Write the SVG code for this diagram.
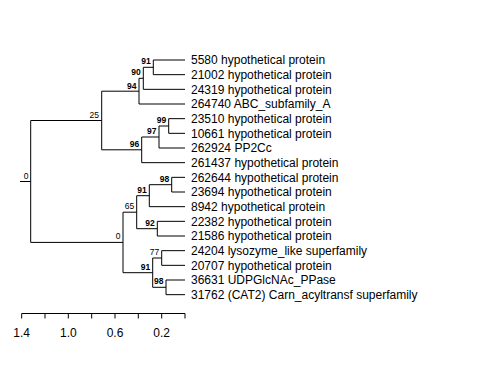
<svg xmlns="http://www.w3.org/2000/svg" width="480" height="384" viewBox="0 0 480 384">
<style>
.br{stroke:#000;stroke-width:1;fill:none}
.tip{font-family:"Liberation Sans",Arial,sans-serif;font-size:12px;fill:#000}
.bs{font-family:"Liberation Sans",Arial,sans-serif;font-size:8.5px;font-weight:bold;fill:#000;text-anchor:end}
.nb{font-family:"Liberation Sans",Arial,sans-serif;font-size:8.5px;fill:#000;text-anchor:end}
.ax{font-family:"Liberation Sans",Arial,sans-serif;font-size:12px;fill:#000;text-anchor:middle}
</style>
<rect width="480" height="384" fill="#fff"/>
<g id="connectors" class="br">
<path d="M20,181.5H30.7M30.7,120.5V242.4M30.7,120.5H101.7M30.7,242.4H123"/>
<path d="M101.7,91.2V149.8M101.7,91.2H139M101.7,149.8H141.7"/>
<path d="M139,78.3V104M139,78.3H143.3M139,104H185"/>
<path d="M143.3,67.3V89.33M143.3,67.3H153.3M143.3,89.33H185"/>
<path d="M153.3,60V74.67M153.3,60H185M153.3,74.67H185"/>
<path d="M141.7,137V162.67M141.7,137H159M141.7,162.67H185"/>
<path d="M159,126V148M159,126H168.7M159,148H185"/>
<path d="M168.7,118.67V133.33M168.7,118.67H185M168.7,133.33H185"/>
<path d="M123,212.2V272.7M123,212.2H136.7M123,272.7H152.7"/>
<path d="M136.7,195.7V228.7M136.7,195.7H149.3M136.7,228.7H157.3"/>
<path d="M149.3,184.7V206.67M149.3,184.7H171.7M149.3,206.67H185"/>
<path d="M171.7,177.33V192M171.7,177.33H185M171.7,192H185"/>
<path d="M157.3,221.33V236M157.3,221.33H185M157.3,236H185"/>
<path d="M152.7,258V287.3M152.7,258H161.7M152.7,287.3H166"/>
<path d="M161.7,250.67V265.33M161.7,250.67H185M161.7,265.33H185"/>
<path d="M166,280V294.67M166,280H185M166,294.67H185"/>
</g>
<g id="tips" class="tip">
<g id="t5580"><text x="191" y="64.3">5580 hypothetical protein</text></g>
<g id="t21002"><text x="191" y="79">21002 hypothetical protein</text></g>
<g id="t24319"><text x="191" y="93.6">24319 hypothetical protein</text></g>
<g id="t264740"><text x="191" y="108.3">264740 ABC_subfamily_A</text></g>
<g id="t23510"><text x="191" y="123">23510 hypothetical protein</text></g>
<g id="t10661"><text x="191" y="137.6">10661 hypothetical protein</text></g>
<g id="t262924"><text x="191" y="152.3">262924 PP2Cc</text></g>
<g id="t261437"><text x="191" y="167">261437 hypothetical protein</text></g>
<g id="t262644"><text x="191" y="181.6">262644 hypothetical protein</text></g>
<g id="t23694"><text x="191" y="196.3">23694 hypothetical protein</text></g>
<g id="t8942"><text x="191" y="211">8942 hypothetical protein</text></g>
<g id="t22382"><text x="191" y="225.6">22382 hypothetical protein</text></g>
<g id="t21586"><text x="191" y="240.3">21586 hypothetical protein</text></g>
<g id="t24204"><text x="191" y="255">24204 lysozyme_like superfamily</text></g>
<g id="t20707"><text x="191" y="269.6">20707 hypothetical protein</text></g>
<g id="t36631"><text x="191" y="284.3">36631 UDPGlcNAc_PPase</text></g>
<g id="t31762"><text x="191" y="299">31762 (CAT2) Carn_acyltransf superfamily</text></g>
</g>
<g id="nodelabels">
<g id="n_root"><text class="nb" x="28.5" y="178.5">0</text></g>
<g id="n25"><text class="nb" x="99" y="117.5">25</text></g>
<g id="n94"><text class="bs" x="136.5" y="88.5">94</text></g>
<g id="n90"><text class="bs" x="140.8" y="75.3">90</text></g>
<g id="n91a"><text class="bs" x="150.8" y="64.3">91</text></g>
<g id="n96"><text class="bs" x="139.2" y="146.8">96</text></g>
<g id="n97"><text class="bs" x="156.5" y="134">97</text></g>
<g id="n99"><text class="bs" x="166.2" y="123">99</text></g>
<g id="n0b"><text class="nb" x="120.5" y="239.4">0</text></g>
<g id="n65"><text class="nb" x="134.2" y="209.2">65</text></g>
<g id="n91b"><text class="bs" x="146.8" y="192.7">91</text></g>
<g id="n98a"><text class="bs" x="169.2" y="181.7">98</text></g>
<g id="n92"><text class="bs" x="154.8" y="225.7">92</text></g>
<g id="n91c"><text class="bs" x="150.2" y="269.7">91</text></g>
<g id="n77"><text class="nb" x="159.2" y="255">77</text></g>
<g id="n98b"><text class="bs" x="163.5" y="284.3">98</text></g>
</g>
<g id="axis">
<path class="br" d="M21.7,313.5H185M21.7,313.5V318.5M45,313.5V318.5M68.3,313.5V318.5M91.7,313.5V318.5M115,313.5V318.5M138.3,313.5V318.5M161.7,313.5V318.5M185,313.5V318.5"/>
<text class="ax" x="21.7" y="336.7">1.4</text>
<text class="ax" x="68.3" y="336.7">1.0</text>
<text class="ax" x="115" y="336.7">0.6</text>
<text class="ax" x="161.7" y="336.7">0.2</text>
</g>
</svg>
